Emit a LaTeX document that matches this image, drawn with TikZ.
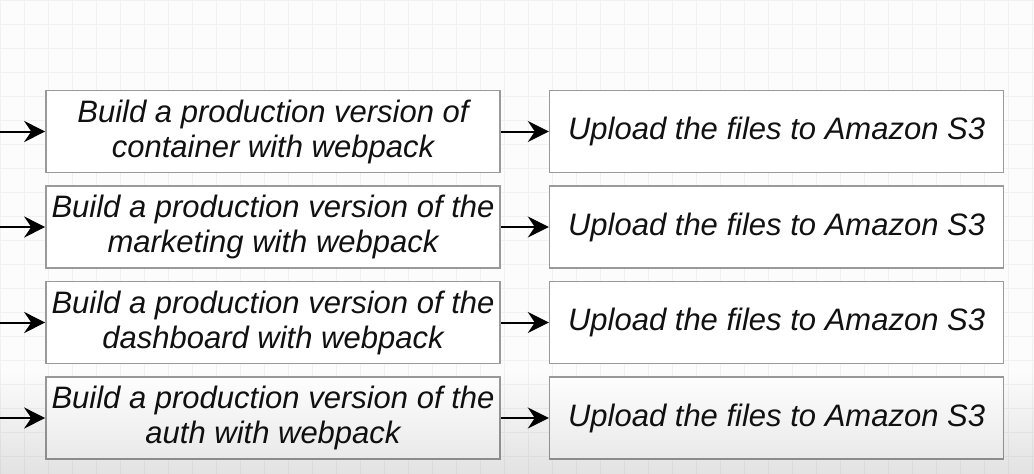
\documentclass[tikz,border=0pt]{standalone}
\usepackage{fontspec}
\setmainfont{Liberation Sans}
\usetikzlibrary{positioning,arrows.meta}

\definecolor{boxline}{HTML}{9A9A9A}
\definecolor{gridline}{HTML}{F1F1F1}
\definecolor{inkblack}{HTML}{111111}

\tikzset{
    stepbox/.style={draw=boxline, line width=1.6pt, fill=white, text=inkblack,
        minimum width=454pt, minimum height=82pt, inner sep=0pt, align=center,
        font=\fontsize{31}{35}\selectfont\itshape},
    flow/.style={-{Stealth[length=21pt, width=21pt, inset=7pt]}, line width=2pt, draw=black},
}

\begin{document}
\begin{tikzpicture}[x=1pt, y=-1pt]
\useasboundingbox (0,0) rectangle (1034,474);
\fill[white!99!black] (0,0) rectangle (1034,474);
\draw[gridline, line width=0.7pt, step=24pt] (0,0) grid (1034,474);

% build steps
\node[stepbox] (build1) at (273,131.5) {Build a production version of\\container with webpack};
\node[stepbox] (build2) at (273,227) {Build a production version of the\\marketing with webpack};
\node[stepbox] (build3) at (273,322.5) {Build a production version of the\\dashboard with webpack};
\node[stepbox] (build4) at (273,418) {Build a production version of the\\auth with webpack};

% uploads
\node[stepbox, right=48pt of build1] (upload1) {Upload the files to Amazon S3};
\node[stepbox, right=48pt of build2] (upload2) {Upload the files to Amazon S3};
\node[stepbox, right=48pt of build3] (upload3) {Upload the files to Amazon S3};
\node[stepbox, right=48pt of build4] (upload4) {Upload the files to Amazon S3};

% incoming ends
\coordinate (in1) at (0,131.5);
\coordinate (in2) at (0,227);
\coordinate (in3) at (0,322.5);
\coordinate (in4) at (0,418);

\foreach \i in {1,...,4} {
    \draw[flow] (in\i) -- (build\i);
    \draw[flow] (build\i) -- (upload\i);
}

% darker band at the bottom
\shade[top color=white, bottom color=black!10, blend mode=multiply] (0,370) rectangle (1034,474);
\end{tikzpicture}
\end{document}
